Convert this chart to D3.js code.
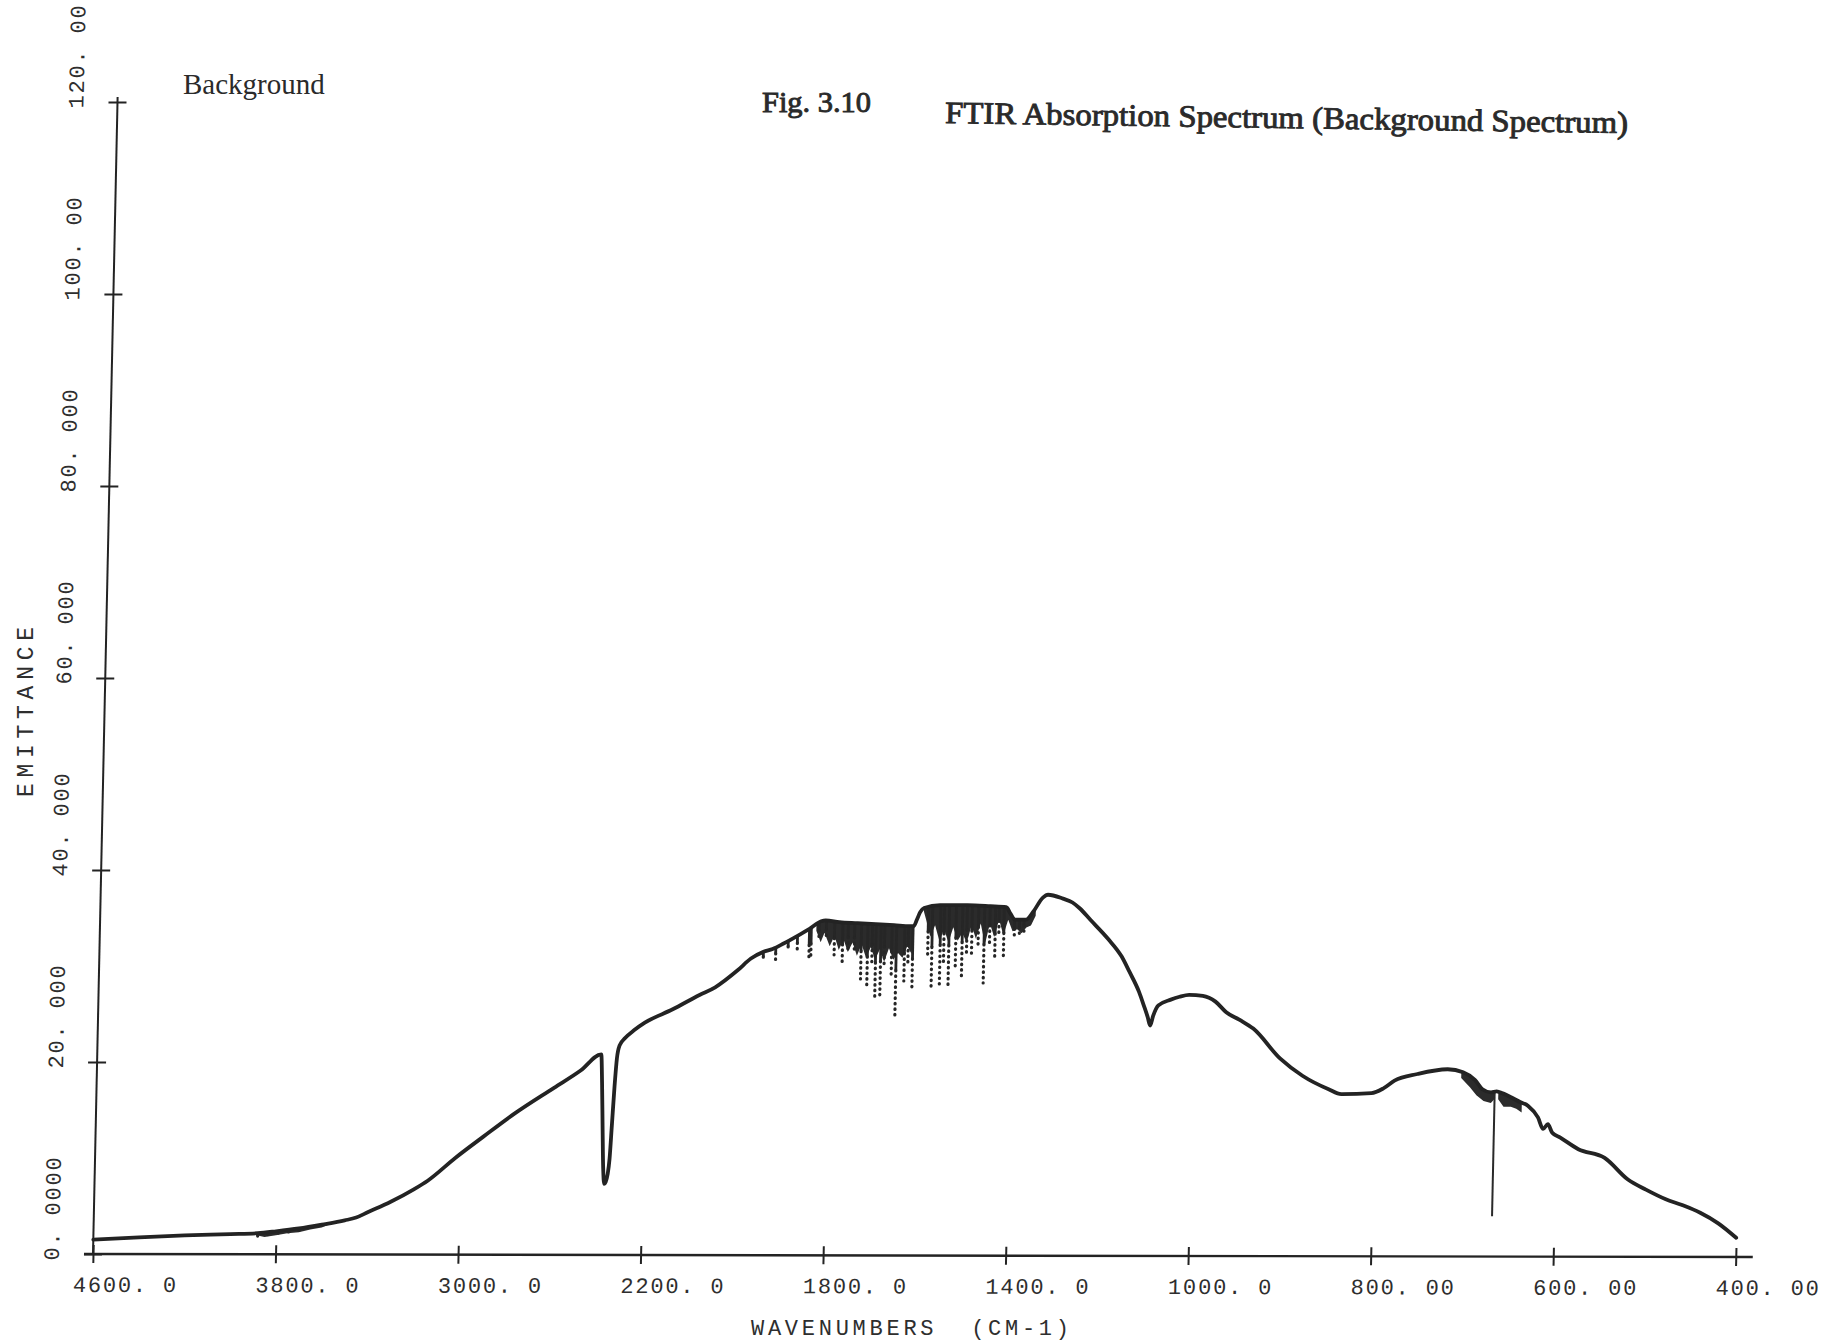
<!DOCTYPE html>
<html>
<head>
<meta charset="utf-8">
<script src="https://cdn.jsdelivr.net/npm/d3@7"></script>
<style>
  html, body { margin: 0; padding: 0; background: #ffffff; }
  svg { display: block; }
  .plotter { font-family: "Liberation Mono", "DejaVu Sans Mono", monospace; fill: #2e2e2e; }
  .caption { font-family: "Liberation Serif", "DejaVu Serif", serif; fill: #2a2a2a; }
</style>
</head>
<body>
<svg id="chart" width="1832" height="1342"></svg>
<script>
// Emission trace: wavenumber (cm-1) and emittance
const wavenumber = [
  4600, 4400, 4200, 4000, 3880, 3800, 3700, 3600, 3500, 3450,
  3400, 3300, 3200, 3140, 3020, 2900, 2766, 2595, 2480, 2391,
  2385, 2378, 2372, 2366, 2360, 2352, 2345, 2338, 2330, 2322,
  2312, 2288, 2250, 2203, 2141, 2083, 2049, 2000, 1972, 1945,
  1925, 1900, 1870, 1845, 1820, 1810, 1780, 1740, 1700, 1660,
  1625, 1617, 1610, 1603, 1595, 1560, 1500, 1450, 1415, 1405,
  1395, 1371, 1356, 1335, 1324, 1291, 1270, 1254, 1230, 1190,
  1160, 1142, 1120, 1109, 1100, 1094, 1088, 1077, 1050, 1031,
  1010, 990, 976, 964, 949, 934, 904, 879, 850, 836,
  803, 790, 778, 753, 720, 703, 690, 681, 672, 666,
  662, 650, 640, 631, 620, 614, 609, 604, 595, 575,
  546, 520, 500, 478, 460, 440, 420, 400
];
const emittance = [
  1.5, 1.75, 1.95, 2.1, 2.2, 2.4, 2.7, 3.1, 3.55, 3.85,
  4.4, 5.5, 6.8, 7.7, 10.1, 12.3, 14.7, 17.4, 19.2, 20.9,
  18.0, 13.0, 9.0, 7.4, 7.6, 8.4, 10.0, 13.5, 17.5, 20.5,
  21.8, 22.6, 23.4, 24.2, 25.6, 27.1, 27.9, 29.7, 30.9, 31.6,
  31.9, 32.5, 33.3, 34.0, 34.8, 34.9, 34.7, 34.6, 34.5, 34.4,
  34.3, 34.3, 35.0, 35.8, 36.2, 36.5, 36.5, 36.4, 36.3, 35.6,
  35.0, 35.0, 35.8, 37.3, 37.6, 37.2, 36.8, 36.2, 35.0, 33.0,
  31.2, 29.6, 27.5, 26.1, 24.9, 24.0, 25.0, 26.1, 26.7, 27.0,
  27.2, 27.1, 26.5, 25.4, 24.6, 23.7, 20.6, 18.8, 17.4, 16.9,
  17.0, 17.5, 18.3, 19.0, 19.5, 19.2, 18.4, 17.4, 17.1, 17.2,
  17.1, 16.6, 16.1, 15.7, 14.5, 13.3, 13.8, 12.9, 12.4, 11.2,
  10.3, 8.05, 7.0, 6.0, 5.4, 4.6, 3.5, 2.0
];

// Water-vapour absorption lines: position and lowest plotted emittance
const lineWn = [
  3880, 3835, 3790, 3745, 3700, 3650,
  1945, 1918, 1891, 1871, 1845, 1824,
  1841, 1808, 1790, 1772, 1760, 1746, 1731, 1717, 1707, 1699, 1688, 1680,
  1664, 1654, 1636, 1628, 1618,
  1585, 1576, 1558, 1550, 1539, 1524, 1510, 1500, 1489, 1475, 1462, 1450,
  1438, 1430, 1419, 1396, 1385, 1375
];
const lineMin = [
  1.7, 1.9, 2.1, 2.2, 2.4, 2.8,
  30.6, 30.8, 31.6, 31.8, 30.6, 33.0,
  30.8, 33.0, 31.3, 30.1, 31.6, 31.6, 28.8, 27.7, 30.2, 26.5, 26.8, 29.9,
  28.9, 25.0, 28.6, 30.4, 27.5,
  31.2, 27.9, 28.2, 30.6, 28.1, 29.7, 28.8, 31.4, 31.2, 32.0, 28.4, 32.4,
  30.7, 33.4, 30.9, 33.0, 33.4, 33.8
];

// Lower edge of the densely overlapping line clusters (null = gap)
const bandWn = [
  3890, 3850, 3800, 3750, 3700, 3650, 3600, 3560, null,
  1830, 1820, 1812, 1800, 1790, 1780, 1770, 1760, 1750, 1740, 1730, 1720,
  1710, 1700, 1690, 1680, 1670, 1660, 1650, 1640, 1630, 1620, 1617, null,
  1595, 1590, 1580, 1570, 1560, 1550, 1540, 1530, 1520, 1510, 1500, 1490,
  1480, 1470, 1460, 1450, 1440, 1430, 1420, 1410, 1400, 1390, 1380, 1370,
  1360, 1350, null,
  705, 695, 688, 680, 672, 668, null,
  664, 658, 650, 644, 638
];
const bandFloor = [
  2.0, 1.8, 2.0, 2.2, 2.3, 2.6, 2.8, 3.2, null,
  33.8, 32.6, 33.6, 32.2, 33.3, 31.8, 32.9, 31.6, 32.6, 31.2, 32.4, 31.0,
  32.1, 30.8, 31.9, 30.6, 32.0, 30.8, 31.5, 31.0, 32.2, 31.4, 34.0, null,
  35.8, 35.0, 33.2, 34.4, 32.8, 34.0, 32.6, 34.2, 32.8, 33.6, 32.6, 34.4,
  33.0, 34.6, 32.4, 34.6, 33.2, 35.0, 33.4, 35.0, 33.8, 34.0, 33.6, 34.2,
  34.4, 35.4, null,
  18.6, 17.6, 16.8, 16.2, 16.0, 16.4, null,
  16.4, 15.6, 15.6, 15.4, 15.0
];

// Single sharp CO2 line near 668 cm-1
const sharpWn = [668];
const sharpMin = [4.2];

// Axis ticks
const xTickValues = [4600, 3800, 3000, 2200, 1800, 1400, 1000, 800, 600, 400];
const xTickLabels = ["4600. 0", "3800. 0", "3000. 0", "2200. 0", "1800. 0", "1400. 0", "1000. 0", "800. 00", "600. 00", "400. 00"];
const yTickValues = [0, 20, 40, 60, 80, 100, 120];
const yTickLabels = ["0. 0000", "20. 000", "40. 000", "60. 000", "80. 000", "100. 00", "120. 00"];

const svg = d3.select("#chart");
const ink = "#232323";

// Plot frame: the wavenumber axis changes scale at 2200 and 1000 cm-1
const div = 182.53;
const x = d3.scaleLinear()
  .domain([4600, 2200, 1000, 400])
  .range([0, 3 * div, 6 * div, 9 * div]);
const y = d3.scaleLinear().domain([0, 120]).range([0, -1152]);
const trace = d3.scaleLinear().domain(wavenumber).range(emittance);

// The plotted frame leans slightly, as drawn by the pen plotter
const plot = svg.append("g")
  .attr("transform", "matrix(1, 0.00183, -0.02127, 1, 93, 1254)");

// X axis
const xAxis = plot.append("g")
  .attr("class", "plotter")
  .call(d3.axisBottom(x).tickValues(xTickValues)
    .tickFormat((d, i) => xTickLabels[i]).tickSize(9));
xAxis.select(".domain").remove();
xAxis.selectAll(".tick line")
  .attr("y1", -9).attr("y2", 9)
  .attr("stroke", ink).attr("stroke-width", 2);
xAxis.selectAll(".tick text")
  .attr("text-anchor", "start")
  .attr("x", -20).attr("y", 38).attr("dy", null)
  .attr("font-size", 22).attr("letter-spacing", 1.8)
  .attr("fill", "#2e2e2e");
plot.append("line")
  .attr("x1", -9).attr("x2", x(400) + 17)
  .attr("y1", 0).attr("y2", 0)
  .attr("stroke", ink).attr("stroke-width", 2.4);

// Y axis
const yAxis = plot.append("g")
  .attr("class", "plotter")
  .call(d3.axisLeft(y).tickValues(yTickValues)
    .tickFormat((d, i) => yTickLabels[i]).tickSize(9));
yAxis.select(".domain").remove();
yAxis.selectAll(".tick line")
  .attr("x1", -9).attr("x2", 9)
  .attr("stroke", ink).attr("stroke-width", 2);
yAxis.selectAll(".tick text")
  .attr("text-anchor", "start")
  .attr("x", 0).attr("y", 0).attr("dy", null)
  .attr("transform", "translate(-34, 6) rotate(-90)")
  .attr("font-size", 22).attr("letter-spacing", 1.8)
  .attr("fill", "#2e2e2e");
plot.append("line")
  .attr("x1", 0).attr("x2", 0)
  .attr("y1", 0).attr("y2", y(120) - 5)
  .attr("stroke", ink).attr("stroke-width", 2);

// Dense line clusters under the trace
const bandPts = bandWn.map((w, i) => ({ wn: w, floor: bandFloor[i] }));
plot.append("path")
  .datum(bandPts)
  .attr("fill", "#2b2b2b")
  .attr("d", d3.area()
    .defined(d => d.wn != null && d.floor != null)
    .x(d => x(d.wn))
    .y0(d => y(trace(d.wn)))
    .y1(d => y(d.floor))
    .curve(d3.curveLinear));

// Individual absorption lines: solid near the trace, dotted further down
const lines = lineWn.map((w, i) => ({ wn: w, top: trace(w), min: lineMin[i] }));
const split = d => d.top - 0.5 * (d.top - d.min);
const lg = plot.append("g");
lg.selectAll("line.solid").data(lines).join("line")
  .attr("class", "solid")
  .attr("x1", d => x(d.wn)).attr("x2", d => x(d.wn))
  .attr("y1", d => y(d.top))
  .attr("y2", d => y(split(d)))
  .attr("stroke", "#262626").attr("stroke-width", 2.8);
lg.selectAll("line.dots").data(lines).join("line")
  .attr("class", "dots")
  .attr("x1", d => x(d.wn)).attr("x2", d => x(d.wn))
  .attr("y1", d => y(split(d)))
  .attr("y2", d => y(d.min))
  .attr("stroke", "#262626").attr("stroke-width", 3.2)
  .attr("stroke-linecap", "round")
  .attr("stroke-dasharray", "0.5,5");

// Sharp single line
plot.selectAll("line.sharp")
  .data(sharpWn.map((w, i) => ({ wn: w, min: sharpMin[i] })))
  .join("line")
  .attr("class", "sharp")
  .attr("x1", d => x(d.wn)).attr("x2", d => x(d.wn))
  .attr("y1", d => y(trace(d.wn)))
  .attr("y2", d => y(d.min))
  .attr("stroke", "#2a2a2a").attr("stroke-width", 2);

// Main trace
const pts = wavenumber.map((w, i) => [w, emittance[i]]);
plot.append("path")
  .datum(pts)
  .attr("fill", "none")
  .attr("stroke", ink)
  .attr("stroke-width", 3.8)
  .attr("stroke-linejoin", "round")
  .attr("stroke-linecap", "round")
  .attr("d", d3.line().x(d => x(d[0])).y(d => y(d[1])).curve(d3.curveMonotoneX));

// Axis titles
svg.append("text")
  .attr("class", "plotter")
  .attr("transform", "translate(33, 797) rotate(-90)")
  .attr("font-size", 23)
  .attr("textLength", 170)
  .attr("lengthAdjust", "spacing")
  .text("EMITTANCE");
svg.append("text")
  .attr("class", "plotter")
  .attr("x", 751).attr("y", 1335)
  .attr("font-size", 22)
  .attr("textLength", 318)
  .attr("lengthAdjust", "spacing")
  .attr("xml:space", "preserve")
  .style("white-space", "pre")
  .text("WAVENUMBERS  (CM-1)");

// Captions
svg.append("text")
  .attr("class", "caption")
  .attr("x", 183).attr("y", 94)
  .attr("font-size", 29)
  .attr("fill", "#4a4a4a")
  .text("Background");
svg.append("text")
  .attr("class", "caption")
  .attr("x", 762).attr("y", 112)
  .attr("font-size", 29)
  .attr("textLength", 109)
  .attr("lengthAdjust", "spacingAndGlyphs")
  .attr("stroke", "#2a2a2a").attr("stroke-width", 0.9)
  .text("Fig. 3.10");
svg.append("text")
  .attr("class", "caption")
  .attr("transform", "translate(945, 123) rotate(0.85)")
  .attr("font-size", 31)
  .attr("textLength", 683)
  .attr("lengthAdjust", "spacingAndGlyphs")
  .attr("stroke", "#2a2a2a").attr("stroke-width", 0.9)
  .text("FTIR Absorption Spectrum (Background Spectrum)");
</script>
</body>
</html>
